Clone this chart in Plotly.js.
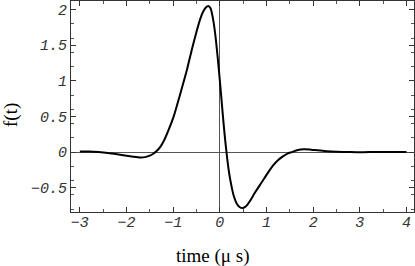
<!DOCTYPE html>
<html>
<head>
<meta charset="utf-8">
<script src="https://cdn.plot.ly/plotly-3.0.1.min.js"></script>
<style>
  html, body { margin: 0; padding: 0; background: #fff; }
  #plotArea { width: 415px; height: 266px; }
</style>
</head>
<body>
<div id="plotArea"></div>
<script>
// pulse f(t)
var timeUs = [-3.0, -2.8, -2.6, -2.4, -2.2, -2.0, -1.85, -1.7, -1.6, -1.5,
              -1.42, -1.35, -1.28, -1.2, -1.1, -1.0, -0.9, -0.8, -0.7, -0.6,
              -0.5, -0.42, -0.36, -0.3, -0.25, -0.2, -0.15, -0.1, -0.05, 0.0,
              0.05, 0.1, 0.15, 0.2, 0.25, 0.3, 0.36, 0.42, 0.49, 0.56,
              0.65, 0.75, 0.85, 0.95, 1.05, 1.15, 1.25, 1.35, 1.45, 1.54,
              1.65, 1.8, 1.95, 2.1, 2.3, 2.5, 2.8, 3.2, 3.6, 4.0];
var fValues = [0.01, 0.008, 0.0, -0.012, -0.03, -0.05, -0.065, -0.075, -0.07, -0.05,
               -0.02, 0.02, 0.07, 0.16, 0.31, 0.48, 0.70, 0.93, 1.17, 1.44,
               1.69, 1.87, 1.97, 2.03, 2.05, 2.02, 1.88, 1.66, 1.35, 1.0,
               0.62, 0.26, -0.05, -0.30, -0.48, -0.62, -0.72, -0.77, -0.785, -0.76,
               -0.68, -0.57, -0.47, -0.37, -0.27, -0.18, -0.11, -0.06, -0.02, 0.0,
               0.025, 0.04, 0.035, 0.025, 0.012, 0.005, 0.0, 0.0, 0.0, 0.0];
var xTicks = [-3, -2, -1, 0, 1, 2, 3, 4];
var yTicks = [-0.5, 0, 0.5, 1, 1.5, 2];
var yTickText = ["-0.5", "0", "0.5", "1", "1.5", "2"];

var tickFont = {family: "Liberation Mono, Courier New, monospace", size: 15, color: "#333", style: "italic"};
var titleFont = {family: "Liberation Serif, Times New Roman, serif", size: 19, color: "#000"};

var trace = {
    x: timeUs,
    y: fValues,
    type: "scatter",
    mode: "lines",
    line: {color: "#000", width: 2, shape: "spline", smoothing: 0.8},
    hoverinfo: "skip"
};

var axisCommon = {
    showgrid: false,
    showline: true,
    linecolor: "#333",
    linewidth: 1,
    mirror: "ticks",
    ticks: "inside",
    ticklen: 5,
    tickcolor: "#333",
    tickwidth: 1,
    tickfont: tickFont,
    zeroline: true,
    zerolinecolor: "#555",
    zerolinewidth: 1,
    minor: {ticks: "inside", ticklen: 3, tickcolor: "#555", nticks: 5, showgrid: false}
};

var layout = {
    width: 415,
    height: 266,
    margin: {l: 71, r: 1, t: 1, b: 54},
    paper_bgcolor: "#fff",
    plot_bgcolor: "#fff",
    showlegend: false,
    xaxis: Object.assign({}, axisCommon, {
        range: [-3.19, 4.16],
        tickvals: xTicks,
        ticklabelstandoff: -4,
        ticktext: xTicks.map(function (v) { return v < 0 ? "\u2212" + (-v) : String(v); })
    }),
    yaxis: Object.assign({}, axisCommon, {
        range: [-0.84, 2.12],
        tickvals: yTicks,
        ticktext: yTickText.map(function (s) { return s.replace("-", "\u2212"); })
    }),
    annotations: [
        {text: "time (\u03bc s)", xref: "paper", yref: "paper", x: (213 - 71) / 343, y: -(256 - 212) / 211,
         xanchor: "center", yanchor: "middle", showarrow: false, font: titleFont},
        {text: "f(t)", xref: "paper", yref: "paper", x: -(71 - 11) / 343, y: (212 - 115) / 211,
         xanchor: "center", yanchor: "middle", textangle: -90, showarrow: false, font: titleFont}
    ]
};

Plotly.newPlot("plotArea", [trace], layout, {staticPlot: true});
</script>
</body>
</html>
